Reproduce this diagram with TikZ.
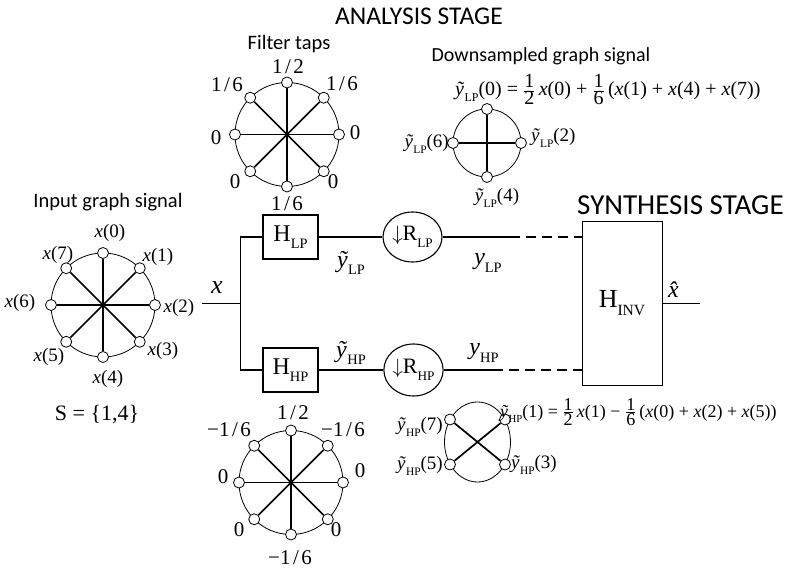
\documentclass[tikz,border=0pt]{standalone}
\usepackage{fontspec}
\setmainfont{Liberation Serif}
\newfontfamily\sansf{Carlito}
\usepackage{graphicx}
\usetikzlibrary{shapes.geometric,calc}
\newcommand\sub[1]{\raisebox{-0.3em}{\scalebox{0.6}{#1}}}
\newcommand\fs[1]{\fontsize{#1}{#1}\selectfont}
\newcommand\xv[1]{\textit{x}(#1)}
\newcommand\yl[2]{\textit{ỹ}\sub{#1}(#2)}
\newcommand\fr[2]{$\frac{\hbox{#1}}{\hbox{#2}}$}
\newcommand\slf[2]{#1\kern2.5pt/\kern2.5pt#2}
\tikzset{
  gnode/.style={circle,draw,fill=white,inner sep=0pt,minimum size=11pt,line width=0.8pt},
  rimc/.style={circle,draw,inner sep=0pt,line width=0.8pt},
  spoke/.style={line width=1.7pt},
  wire/.style={line width=1.8pt},
  dwire/.style={line width=1.8pt,dash pattern=on 10pt off 6pt},
  blk/.style={draw,line width=1.1pt,inner sep=0pt,font=\fs{24}},
  dsamp/.style={draw,ellipse,line width=1.1pt,inner sep=0pt,font=\fs{22}},
  lab/.style={inner sep=0pt,font=\fs{19}},
  tap/.style={inner sep=0pt,font=\fs{21}},
  big/.style={inner sep=0pt,font=\fs{24}},
  ttl/.style={inner sep=0pt,anchor=base west},
  sub/.style={inner sep=0pt,anchor=base,font=\sansf\fs{20.5}},
}
\begin{document}
\begin{tikzpicture}[x=1pt,y=-1pt]
\useasboundingbox (0,0) rectangle (790,569);
\fill[white] (0,0) rectangle (790,569);

% titles
\node[ttl,font=\sansf\fs{25.5}] (t1) at (335,25) {ANALYSIS STAGE};
\node[ttl,font=\sansf\fs{29}] (t2) at (577,215) {SYNTHESIS STAGE};
\node[sub] (s1) at (289,50) {Filter taps};
\node[sub,font=\sansf\fs{20}] (s2) at (541,62) {Downsampled graph signal};
\node[sub] (s3) at (108,208) {Input graph signal};

% input graph
\node[rimc,minimum size=104pt] (inrim) at (103,305) {};
\foreach \i in {0,...,7} \node[gnode] (in\i) at ($(103,305)+(90-45*\i:52pt)$) {};
\foreach \i [evaluate=\i as \j using int(\i+4)] in {0,...,3} \draw[spoke] (in\i) -- (in\j);
\node[lab] (lx0) at (110,233) {\xv{0}};
\node[lab] (lx1) at (158,257) {\xv{1}};
\node[lab] (lx2) at (179,308) {\xv{2}};
\node[lab] (lx3) at (163,351) {\xv{3}};
\node[lab] (lx4) at (108,379) {\xv{4}};
\node[lab] (lx5) at (49,357) {\xv{5}};
\node[lab] (lx6) at (20,303) {\xv{6}};
\node[lab] (lx7) at (58,255) {\xv{7}};
\node[inner sep=0pt,font=\fs{22}] (sset) at (97,415) {S = \{1,4\}};

% LP filter taps graph
\node[rimc,minimum size=104pt] (lprim) at (287,134.5) {};
\foreach \i in {0,...,7} \node[gnode] (lp\i) at ($(287,134.5)+(90-45*\i:52pt)$) {};
\foreach \i [evaluate=\i as \j using int(\i+4)] in {0,...,3} \draw[spoke] (lp\i) -- (lp\j);
\node[tap] (a0) at (288,67) {\slf12};
\node[tap] (a1) at (342,84) {\slf16};
\node[tap] (a2) at (355,133) {0};
\node[tap] (a3) at (333,182) {0};
\node[tap] (a4) at (287,204) {\slf16};
\node[tap] (a5) at (235,182) {0};
\node[tap] (a6) at (216,138) {0};
\node[tap] (a7) at (227,85) {\slf16};

% HP filter taps graph
\node[rimc,minimum size=104pt] (hprim) at (291,482.5) {};
\foreach \i in {0,...,7} \node[gnode] (hp\i) at ($(291,482.5)+(90-45*\i:52pt)$) {};
\foreach \i [evaluate=\i as \j using int(\i+4)] in {0,...,3} \draw[spoke] (hp\i) -- (hp\j);
\node[tap] (b0) at (293,413) {\slf12};
\node[tap] (b1) at (343,430) {−\slf16};
\node[tap] (b2) at (360,471) {0};
\node[tap] (b3) at (336,530) {0};
\node[tap] (b4) at (290,558) {−\slf16};
\node[tap] (b5) at (239,530) {0};
\node[tap] (b6) at (223,477) {0};
\node[tap] (b7) at (229,430) {−\slf16};

% main chain
\node[blk,minimum width=55pt,minimum height=44pt] (hlp) at (290.5,237) {H\sub{LP}};
\node[blk,minimum width=55pt,minimum height=44pt] (hhp) at (290.5,370) {H\sub{HP}};
\node[dsamp,minimum width=59pt,minimum height=50pt] (rlp) at (412.5,237) {$\downarrow$R\sub{LP}};
\node[dsamp,minimum width=59pt,minimum height=52pt] (rhp) at (413.5,370) {$\downarrow$R\sub{HP}};
\node[blk,line width=1pt,font=\fs{26},minimum width=80pt,minimum height=163pt] (hinv) at (622,303.5) {H\sub{INV}};

\coordinate (xin) at (202,303.5);
\coordinate (br) at (240.5,303.5);
\coordinate (lpd) at (510,237);
\coordinate (hpd) at (493,370);
\coordinate (xout) at (700,303.5);
\draw[wire] (xin) -- (br);
\draw[wire] (br) |- (hlp.west);
\draw[wire] (br) |- (hhp.west);
\draw[wire] (hlp) -- (rlp);
\draw[wire] (hhp) -- (rhp);
\draw[wire] (rlp) -- (lpd);
\draw[wire] (rhp) -- (hpd);
\draw[dwire] (lpd) -- (hinv.west |- lpd);
\draw[dwire] (hpd) -- (hinv.west |- hpd);
\draw[wire] (hinv) -- (xout);

\node[inner sep=0pt,font=\fs{26}] (lx) at (217,288) {\textit{x}};
\node[big] (lyt1) at (351,263) {\textit{ỹ}\sub{LP}};
\node[big] (lyt2) at (351,353) {\textit{ỹ}\sub{HP}};
\node[big] (ly1) at (488,263) {\textit{y}\sub{LP}};
\node[big] (ly2) at (484,353) {\textit{y}\sub{HP}};
\node[inner sep=0pt,font=\fs{24}] (lxh) at (678,290) {\textit{x̂}};

% LP downsampled graph
\node[rimc,minimum size=68pt] (dlrim) at (487,143) {};
\foreach \i in {0,2,4,6} \node[gnode] (dl\i) at ($(487,143)+(90-45*\i:34pt)$) {};
\draw[spoke] (dl0) -- (dl4);
\draw[spoke] (dl2) -- (dl6);
\node[lab,anchor=east] (dly6) at (449,144) {\yl{LP}{6}};
\node[lab,anchor=west] (dly2) at (531,138) {\yl{LP}{2}};
\node[lab] (dly4) at (497,198) {\yl{LP}{4}};
\node[inner sep=0pt,anchor=base west,font=\fs{20}] (eq1) at (455,96)
  {\yl{LP}{0} = \fr12\,\xv{0} + \fr16\,(\xv{1} + \xv{4} + \xv{7})};

% HP downsampled graph
\node[draw,ellipse,line width=0.8pt,inner sep=0pt,minimum width=66pt,minimum height=80pt] (dhrim) at (477.5,442) {};
\node[gnode] (dh7) at (450,419.5) {};
\node[gnode] (dh1) at (505,419.5) {};
\node[gnode] (dh5) at (450,464.5) {};
\node[gnode] (dh3) at (505,464.5) {};
\draw[spoke] (dh7) -- (dh3);
\draw[spoke] (dh1) -- (dh5);
\node[lab,anchor=east] (dhy7) at (443,427) {\yl{HP}{7}};
\node[lab,anchor=east] (dhy5) at (443,466) {\yl{HP}{5}};
\node[lab,anchor=west] (dhy3) at (511,465) {\yl{HP}{3}};
\node[inner sep=0pt,anchor=base west,font=\fs{18}] (eq2) at (500,417)
  {\yl{HP}{1} = \fr12\,\xv{1} − \fr16\,(\xv{0} + \xv{2} + \xv{5})};
\end{tikzpicture}
\end{document}
